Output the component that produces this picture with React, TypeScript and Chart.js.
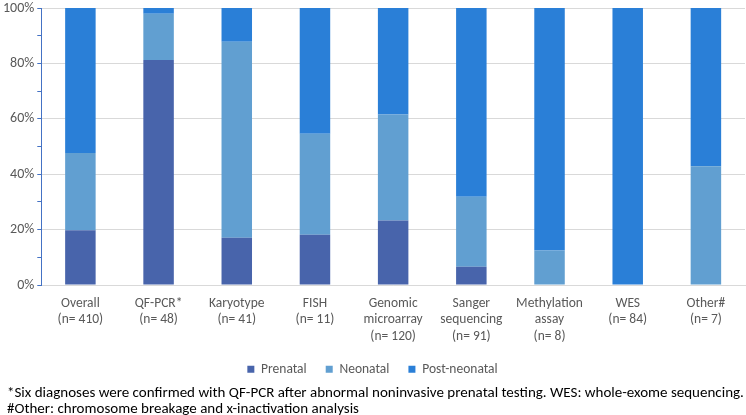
import React, { useEffect, useRef } from "react";
import { Chart, registerables } from "chart.js";

Chart.register(...registerables);

const categories: string[][] = [
  ["Overall", "(n= 410)"],
  ["QF-PCR*", "(n= 48)"],
  ["Karyotype", "(n= 41)"],
  ["FISH", "(n= 11)"],
  ["Genomic", "microarray", "(n= 120)"],
  ["Sanger", "sequencing", "(n= 91)"],
  ["Methylation", "assay", "(n= 8)"],
  ["WES", "(n= 84)"],
  ["Other#", "(n= 7)"],
];

const prenatal = [19.8, 81.25, 17.1, 18.2, 23.3, 6.6, 0, 0, 0];
const neonatal = [27.9, 16.65, 70.7, 36.4, 38.3, 25.3, 12.5, 0, 42.9];
const postNeonatal = [52.3, 2.1, 12.2, 45.4, 38.4, 68.1, 87.5, 100, 57.1];

const seriesNames = ["Prenatal", "Neonatal", "Post-neonatal"];
const seriesColors = ["#4864ab", "#619fd1", "#2a7fd7"];
const yTicks = [0, 20, 40, 60, 80, 100];

const footnote1 =
  "*Six diagnoses were confirmed with QF-PCR after abnormal noninvasive prenatal testing. WES: whole-exome sequencing.";
const footnote2 = "#Other: chromosome breakage and x-inactivation analysis";

const FONT = "Carlito, Calibri, Lato, sans-serif";

export default function App() {
  const ref = useRef<HTMLCanvasElement | null>(null);

  useEffect(() => {
    document.body.style.margin = "0";
    const ctx = ref.current!.getContext("2d")!;
    const data = [prenatal, neonatal, postNeonatal];
    const chart = new Chart(ctx, {
      type: "bar",
      data: {
        labels: categories,
        datasets: seriesNames.map((name, i) => ({
          label: name,
          data: data[i],
          backgroundColor: seriesColors[i],
          borderWidth: 0,
          barPercentage: 0.78,
          categoryPercentage: 0.5,
        })),
      },
      options: {
        animation: false,
        responsive: false,
        maintainAspectRatio: false,
        layout: { padding: { top: 8, right: 1, left: 0, bottom: 0 } },
        plugins: {
          tooltip: { enabled: false },
          legend: {
            position: "bottom",
            labels: {
              boxWidth: 7,
              boxHeight: 7,
              padding: 16,
              color: "#595959",
              font: { family: FONT, size: 13.5 },
              generateLabels: (c: any) => {
                const items = (Chart.defaults as any).plugins.legend.labels.generateLabels(c);
                return items.map((it: any, i: number) => ({
                  ...it,
                  text: i < items.length - 1 ? it.text + " " : it.text,
                }));
              },
            },
          },
        },
        scales: {
          x: {
            stacked: true,
            grid: { display: false },
            border: { color: "#d9d9d9" },
            ticks: {
              autoSkip: false,
              maxRotation: 0,
              color: "#595959",
              font: { family: FONT, size: 13.5, lineHeight: 1.22 },
              padding: 2,
            },
          },
          y: {
            stacked: true,
            min: 0,
            max: 100,
            border: { color: "#4472c4", width: 1 },
            afterFit: (s: any) => {
              s.paddingTop = 0;
            },
            grid: {
              color: (c: any) =>
                c.tick && yTicks.includes(c.tick.value) ? "#d9d9d9" : "rgba(0,0,0,0)",
              tickColor: "#4472c4",
              tickLength: 4,
              lineWidth: 1,
            },
            ticks: {
              stepSize: 10,
              color: "#595959",
              font: { family: FONT, size: 14 },
              padding: 3,
              callback: (v: any) => (yTicks.includes(Number(v)) ? v + "%" : ""),
            },
          },
        },
      },
    });
    return () => chart.destroy();
  }, []);

  return (
    <div style={{ position: "relative", width: 746, height: 415, background: "#fff" }}>
      <canvas ref={ref} width={746} height={386} style={{ display: "block" }} />
      <div
        style={{
          position: "absolute",
          left: 7,
          top: 384,
          fontFamily: FONT,
          fontSize: 15,
          lineHeight: "16px",
          color: "#000",
          whiteSpace: "nowrap",
        }}
      >
        <div>{footnote1}</div>
        <div>{footnote2}</div>
      </div>
    </div>
  );
}
